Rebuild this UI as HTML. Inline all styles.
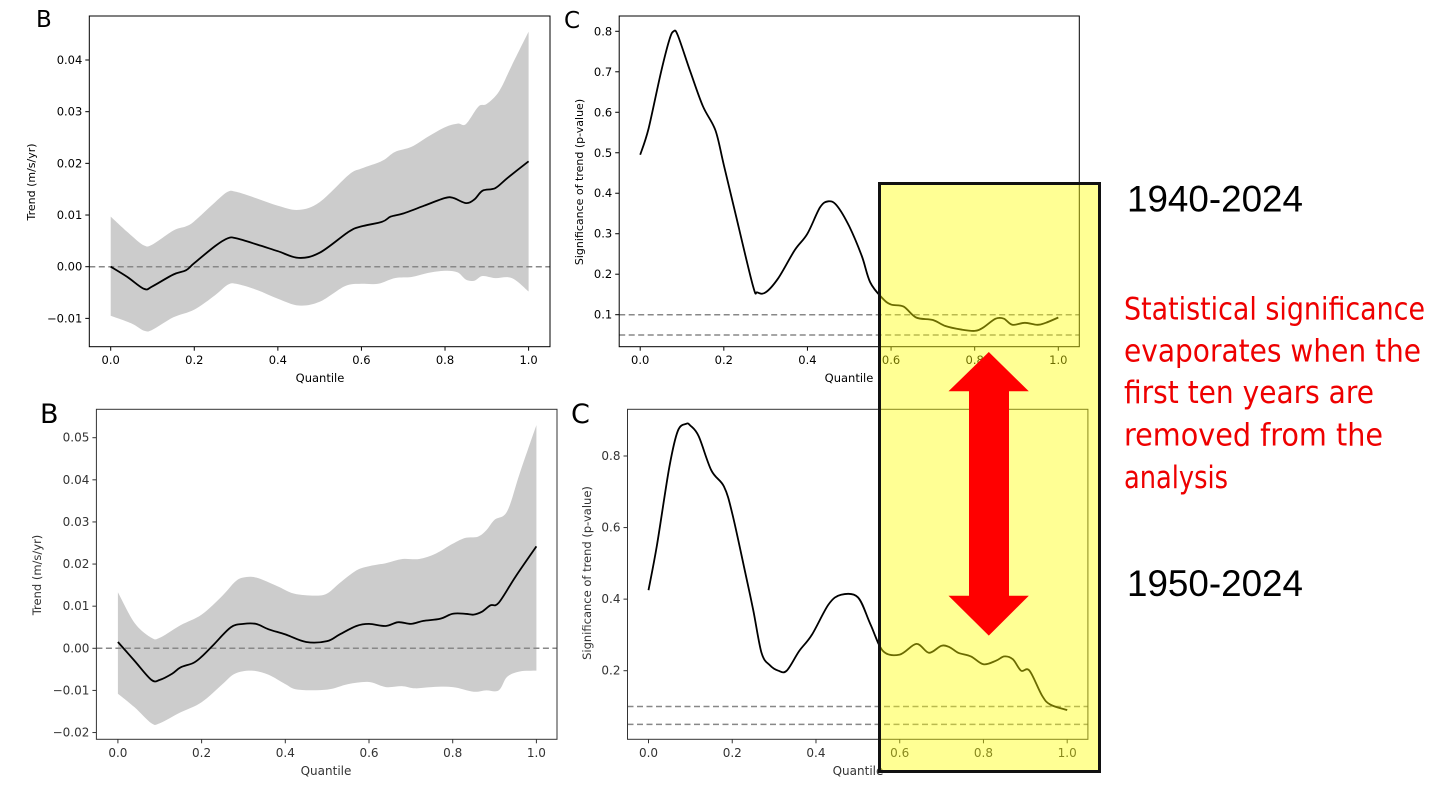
<!DOCTYPE html>
<html><head><meta charset="utf-8">
<style>
html,body{margin:0;padding:0;background:#fff;}
svg{display:block;}
text{font-family:"DejaVu Sans","Liberation Sans",sans-serif;}
</style></head>
<body>
<svg id="root" width="1456" height="796" viewBox="0 0 1456 796" xmlns="http://www.w3.org/2000/svg">
<g id="charts"></g>
<g id="overlay"></g>
</svg>
<script>
// ---------- DATA ----------
// Panel B (1940-2024): trend by quantile
const bTopLineQ = [0,.04,.08,.1,.15,.18,.2,.25,.28,.3,.35,.4,.45,.5,.57,.6,.65,.67,.7,.75,.8,.82,.85,.87,.89,.92,.95,1.0];
const bTopLineV = [0,-.002,-.0043,-.0038,-.0015,-.0007,.0007,.004,.0055,.0055,.0043,.003,.0017,.0027,.0068,.0078,.0087,.0097,.0103,.0118,.0133,.0133,.0123,.013,.0147,.0152,.0172,.0204];
const bTopUpQ = [0,.05,.08,.1,.15,.18,.2,.25,.28,.3,.35,.4,.45,.5,.57,.6,.65,.68,.72,.76,.8,.83,.85,.88,.9,.93,.96,1.0];
const bTopUpV = [.0097,.006,.0041,.0043,.007,.0078,.0088,.0125,.0145,.0145,.0132,.0118,.011,.0125,.0178,.019,.0205,.0222,.0232,.0252,.027,.0277,.0276,.031,.0315,.034,.039,.0455];
const bTopLoQ = [0,.05,.08,.1,.15,.2,.25,.28,.3,.35,.4,.45,.5,.56,.6,.64,.68,.72,.76,.8,.83,.85,.87,.89,.92,.96,1.0];
const bTopLoV = [-.0095,-.011,-.0124,-.0122,-.0098,-.0083,-.0055,-.0035,-.0033,-.0045,-.0062,-.0075,-.0068,-.0038,-.0033,-.0033,-.0022,-.002,-.0012,-.0008,-.0011,-.0025,-.0027,-.0018,-.0022,-.0022,-.0048];
const bTopYTicks = [-0.01,0.00,0.01,0.02,0.03,0.04];
const bTopYLabels = ["\u22120.01","0.00","0.01","0.02","0.03","0.04"];

// Panel B (1950-2024)
const bBotLineQ = [0,.04,.08,.1,.13,.15,.18,.2,.23,.27,.3,.33,.36,.4,.45,.5,.53,.57,.6,.64,.67,.7,.73,.77,.8,.83,.85,.87,.89,.91,.95,1.0];
const bBotLineV = [.0015,-.003,-.0075,-.0075,-.006,-.0045,-.0035,-.002,.001,.005,.0058,.0058,.0045,.0033,.0015,.0017,.0033,.0053,.0058,.0053,.0062,.0058,.0065,.007,.0082,.0082,.008,.0087,.0102,.0108,.017,.0242];
const bBotUpQ = [0,.04,.08,.1,.15,.2,.25,.28,.3,.33,.38,.42,.47,.5,.53,.57,.6,.64,.68,.72,.76,.8,.83,.86,.88,.9,.93,.96,1.0];
const bBotUpV = [.0133,.006,.0025,.0025,.0055,.008,.0125,.0158,.0168,.0168,.0148,.013,.0125,.013,.0155,.0185,.0195,.0202,.0212,.0212,.0225,.0248,.0262,.0265,.028,.0305,.0325,.0415,.053];
const bBotLoQ = [0,.04,.08,.1,.15,.2,.25,.28,.32,.36,.4,.43,.5,.55,.6,.64,.68,.71,.75,.8,.85,.88,.91,.93,.96,1.0];
const bBotLoV = [-.0108,-.014,-.0178,-.0178,-.0152,-.0128,-.0085,-.006,-.0053,-.0063,-.0085,-.0098,-.0098,-.0085,-.008,-.0092,-.009,-.0095,-.0092,-.0092,-.0103,-.01,-.01,-.0068,-.0055,-.0053];
const bBotYTicks = [-0.02,-0.01,0.00,0.01,0.02,0.03,0.04,0.05];
const bBotYLabels = ["\u22120.02","\u22120.01","0.00","0.01","0.02","0.03","0.04","0.05"];

// Panel C (1940-2024): p-value
const cTopQ = [0,.02,.05,.07,.08,.09,.12,.15,.18,.2,.23,.27,.28,.3,.33,.37,.4,.43,.45,.47,.5,.53,.55,.58,.6,.63,.66,.7,.73,.77,.8,.82,.85,.87,.89,.92,.95,.97,1.0];
const cTopP = [.495,.56,.7,.78,.8,.79,.7,.615,.555,.47,.34,.17,.155,.155,.19,.26,.3,.365,.38,.37,.318,.245,.18,.14,.125,.12,.093,.087,.072,.063,.06,.068,.09,.09,.075,.08,.075,.08,.093];
const cTopYTicks = [0.1,0.2,0.3,0.4,0.5,0.6,0.7,0.8];
const cTopYLabels = ["0.1","0.2","0.3","0.4","0.5","0.6","0.7","0.8"];

// Panel C (1950-2024)
const cBotQ = [0,.02,.05,.07,.09,.1,.12,.15,.18,.2,.23,.25,.27,.29,.31,.33,.36,.39,.43,.46,.5,.53,.56,.6,.64,.67,.7,.72,.74,.77,.8,.83,.85,.87,.89,.91,.94,.96,1.0];
const cBotP = [.425,.55,.77,.87,.89,.885,.855,.76,.715,.64,.48,.37,.25,.215,.2,.2,.255,.3,.385,.412,.405,.33,.255,.245,.275,.25,.27,.265,.25,.24,.218,.228,.24,.232,.2,.2,.13,.105,.09];
const cBotYTicks = [0.2,0.4,0.6,0.8];
const cBotYLabels = ["0.2","0.4","0.6","0.8"];

const xTicks = [0,0.2,0.4,0.6,0.8,1.0];
const xTickLabels = ["0.0","0.2","0.4","0.6","0.8","1.0"];

// ---------- DRAWING ----------
const NS = "http://www.w3.org/2000/svg";
const charts = document.getElementById('charts');
function mk(tag, attrs, parent){
  const e = document.createElementNS(NS, tag);
  for (const k in attrs) e.setAttribute(k, attrs[k]);
  (parent||charts).appendChild(e);
  return e;
}
function scale(d0,d1,r0,r1){ return v => r0 + (v-d0)/(d1-d0)*(r1-r0); }
// Catmull-Rom smoothed path segment through points (without initial M)
function smooth(p){
  let d = '';
  for (let i=0;i<p.length-1;i++){
    const p0=p[Math.max(i-1,0)], p1=p[i], p2=p[i+1], p3=p[Math.min(i+2,p.length-1)];
    const c1x=p1[0]+(p2[0]-p0[0])/6, c1y=p1[1]+(p2[1]-p0[1])/6;
    const c2x=p2[0]-(p3[0]-p1[0])/6, c2y=p2[1]-(p3[1]-p1[1])/6;
    d += ' C'+c1x.toFixed(1)+','+c1y.toFixed(1)+' '+c2x.toFixed(1)+','+c2y.toFixed(1)+' '+p2[0].toFixed(1)+','+p2[1].toFixed(1);
  }
  return d;
}

function drawPanel(cfg){
  const g = mk('g', {});
  
  
  const X = scale(0,1,cfg.x0,cfg.x1);
  const Y = scale(cfg.yA,cfg.yB,cfg.pyA,cfg.pyB);
  const col = cfg.col;
  if (cfg.upQ){
    const up = cfg.upQ.map((q,i)=>[X(q),Y(cfg.upV[i])]);
    const lo = cfg.loQ.map((q,i)=>[X(q),Y(cfg.loV[i])]).reverse();
    const d = 'M'+up[0][0]+','+up[0][1]+smooth(up)+' L'+lo[0][0]+','+lo[0][1]+smooth(lo)+' Z';
    const band = mk('path', {d:d, fill:'#cccccc', stroke:'none'}, g);
    
    
  }
  cfg.refs.forEach(r=>{
    const l = mk('line', {x1:cfg.bx0, x2:cfg.bx1, y1:Y(r), y2:Y(r), stroke:'#888', 'stroke-width':1.5, 'stroke-dasharray':'6,3.5'}, g);
    
    
  });
  const pts = cfg.lineQ.map((q,i)=>[X(q),Y(cfg.lineV[i])]);
  const pl = mk('path', {d:'M'+pts[0][0]+','+pts[0][1]+smooth(pts), fill:'none', stroke:'#000', 'stroke-width':1.8, 'stroke-linejoin':'round'}, g);
  
  
  const fr = mk('rect', {x:cfg.bx0, y:cfg.by0, width:cfg.bx1-cfg.bx0, height:cfg.by1-cfg.by0, fill:'none', stroke:col, 'stroke-width':1}, g);
  
  
  xTicks.forEach((t,i)=>{
    mk('line', {x1:X(t), x2:X(t), y1:cfg.by1, y2:cfg.by1+4, stroke:col}, g);
    const tx = mk('text', {x:X(t), y:cfg.xtY, 'text-anchor':'middle', 'font-size':cfg.fs, fill:col}, g);
    tx.textContent = xTickLabels[i];
    
    
  });
  cfg.yTicks.forEach((t,i)=>{
    mk('line', {x1:cfg.bx0-4, x2:cfg.bx0, y1:Y(t), y2:Y(t), stroke:col}, g);
    const tx = mk('text', {x:cfg.bx0-7, y:Y(t)+4, 'text-anchor':'end', 'font-size':cfg.fs, fill:col}, g);
    tx.textContent = cfg.yLabels[i];
    
    
  });
  const xl = mk('text', {x:cfg.xlX, y:cfg.xlY, 'text-anchor':'middle', 'font-size':cfg.fs, fill:col}, g);
  xl.textContent = 'Quantile';
  
  
  const yl = mk('text', {x:0, y:0, 'text-anchor':'middle', 'font-size':cfg.fs-0.5, fill:col, transform:'translate('+cfg.ylX+','+cfg.ylY+') rotate(-90)'}, g);
  yl.textContent = cfg.yTitle;
  
  
  const pl2 = mk('text', {x:cfg.letX, y:cfg.letY, 'font-size':cfg.letS, fill:'#000', 'font-family':'Liberation Sans, sans-serif'}, g);
  pl2.textContent = cfg.letter;
  
  
}

drawPanel({name:'trend-chart-1940', x0:110.7, x1:528.6, yA:0, yB:0.04, pyA:266.7, pyB:60,
  bx0:89.3, bx1:550, by0:16, by1:346.7, col:'#000', fs:11.5,
  upQ:bTopUpQ, upV:bTopUpV, loQ:bTopLoQ, loV:bTopLoV, lineQ:bTopLineQ, lineV:bTopLineV,
  refs:[0], yTicks:bTopYTicks, yLabels:bTopYLabels, xtY:364, xlX:320, xlY:382,
  ylX:35, ylY:182, yTitle:'Trend (m/s/yr)', letter:'B', letX:36, letY:27, letS:23});

drawPanel({name:'trend-chart-1950', x0:117.9, x1:536.4, yA:0, yB:0.05, pyA:648.3, pyB:437.7,
  bx0:96.4, bx1:557, by0:409.3, by1:739.3, col:'#333', fs:12,
  upQ:bBotUpQ, upV:bBotUpV, loQ:bBotLoQ, loV:bBotLoV, lineQ:bBotLineQ, lineV:bBotLineV,
  refs:[0], yTicks:bBotYTicks, yLabels:bBotYLabels, xtY:757, xlX:326, xlY:775,
  ylX:41, ylY:575, yTitle:'Trend (m/s/yr)', letter:'B', letX:40, letY:423, letS:27});

drawPanel({name:'pvalue-chart-1940', x0:640.2, x1:1058.3, yA:0.1, yB:0.8, pyA:314.7, pyB:31.3,
  bx0:619.2, bx1:1079.3, by0:16, by1:346.7, col:'#000', fs:11.5,
  lineQ:cTopQ, lineV:cTopP, refs:[0.1,0.05], yTicks:cTopYTicks, yLabels:cTopYLabels,
  xtY:364, xlX:849, xlY:382, ylX:583, ylY:182, yTitle:'Significance of trend (p-value)',
  letter:'C', letX:564, letY:28, letS:23});

drawPanel({name:'pvalue-chart-1950', x0:648.5, x1:1067.2, yA:0.2, yB:0.8, pyA:670.7, pyB:456,
  bx0:627.5, bx1:1087.9, by0:409.3, by1:739.3, col:'#333', fs:12,
  lineQ:cBotQ, lineV:cBotP, refs:[0.1,0.05], yTicks:cBotYTicks, yLabels:cBotYLabels,
  xtY:757, xlX:858, xlY:775, ylX:591, ylY:573, yTitle:'Significance of trend (p-value)',
  letter:'C', letX:571, letY:423, letS:27});
</script>
<script>
const ov = document.getElementById('overlay');
ov.innerHTML = `
<rect x="879.5" y="183.5" width="220" height="588" fill="rgba(255,255,0,0.42)" stroke="#111" stroke-width="3"/>
<polygon points="988.8,352 1028.8,391.3 1009,391.3 1009,595.7 1028.8,595.7 988.8,635.6 948.5,595.7 969,595.7 969,391.3 948.5,391.3" fill="#ff0000"/>
<text x="1127" y="211.5" font-size="37" textLength="176" lengthAdjust="spacingAndGlyphs" fill="#000" style="font-family:'Liberation Sans',sans-serif">1940-2024</text>
<text x="1127" y="596" font-size="37" textLength="176" lengthAdjust="spacingAndGlyphs" fill="#000" style="font-family:'Liberation Sans',sans-serif">1950-2024</text>
<g fill="#ee0000" font-size="31" style="font-family:'Liberation Sans',sans-serif">
<text x="1124" y="319.5" textLength="301" lengthAdjust="spacingAndGlyphs">Statistical significance</text>
<text x="1124" y="361.7" textLength="297" lengthAdjust="spacingAndGlyphs">evaporates when the</text>
<text x="1124" y="403.2" textLength="250" lengthAdjust="spacingAndGlyphs">first ten years are</text>
<text x="1124" y="445.5" textLength="259" lengthAdjust="spacingAndGlyphs">removed from the</text>
<text x="1124" y="488.2" textLength="104" lengthAdjust="spacingAndGlyphs">analysis</text>
</g>`;
</script>
</body></html>
